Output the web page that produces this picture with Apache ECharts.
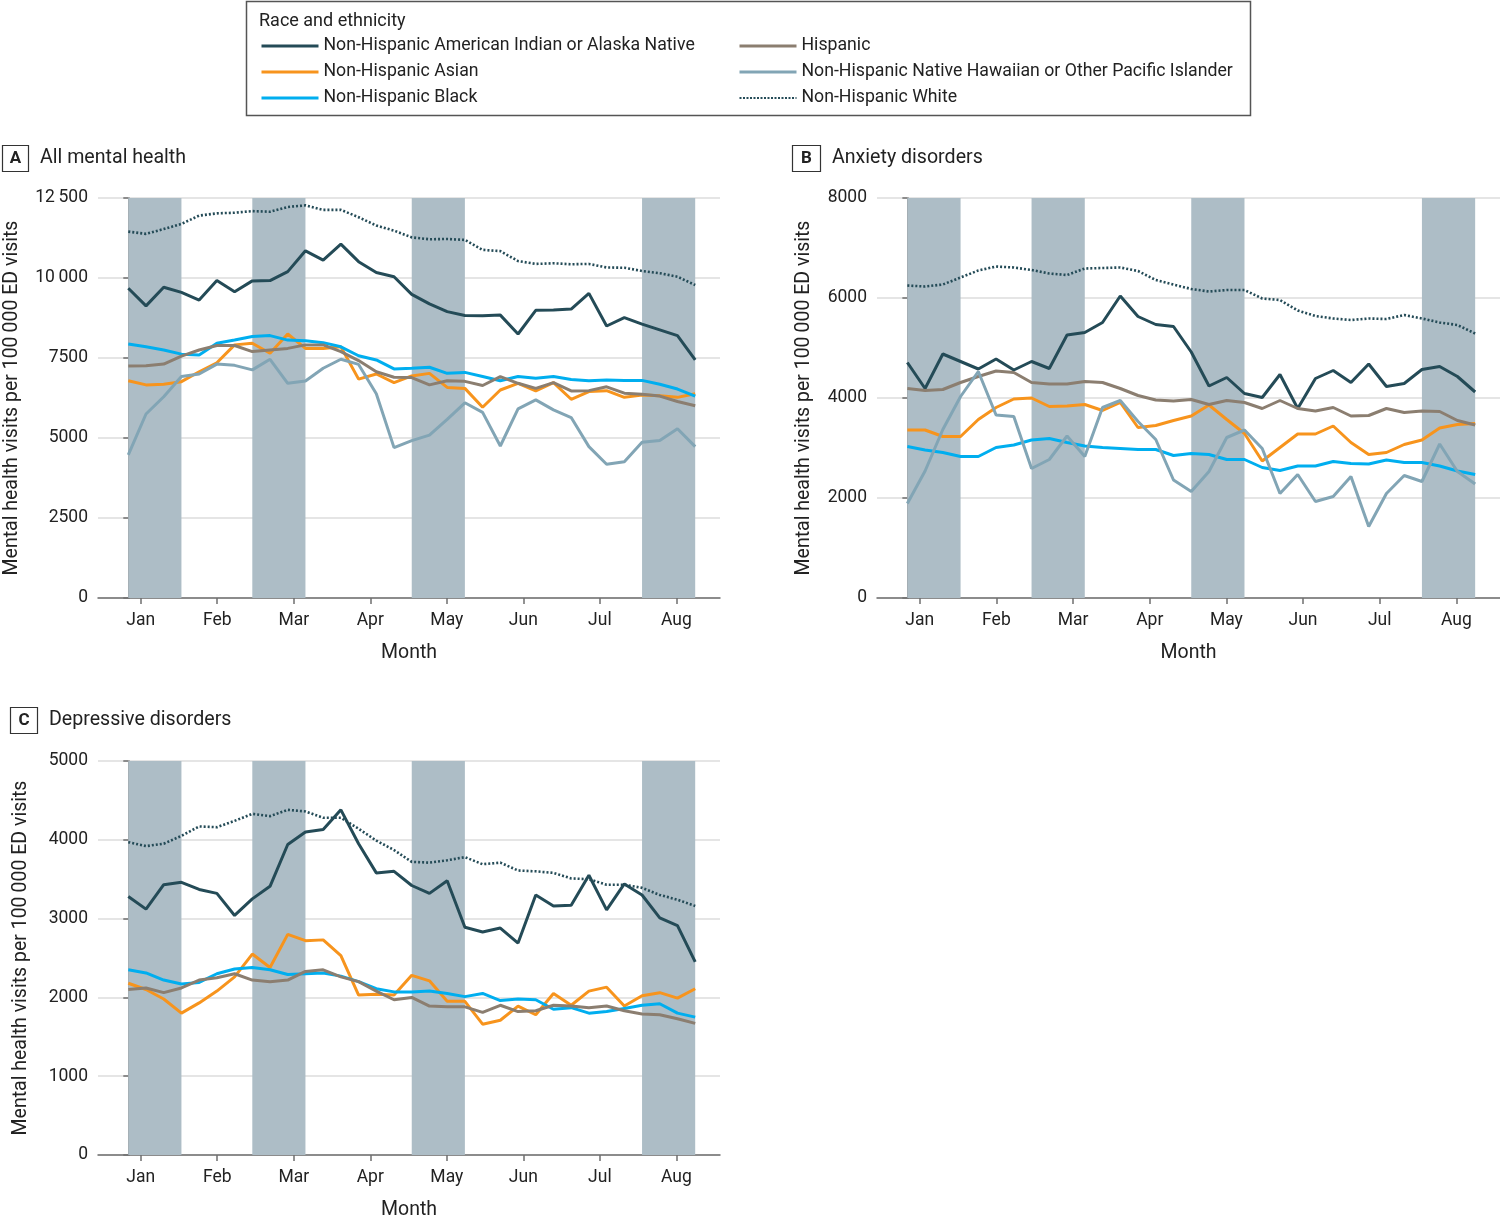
<!DOCTYPE html>
<html><head><meta charset="utf-8">
<script src="https://cdn.jsdelivr.net/npm/echarts@6/dist/echarts.min.js"></script>
<style>html,body{margin:0;padding:0;background:#fff}#c{width:1500px;height:1221px}</style>
</head><body><div id="c"></div>
<script>
// ---- Data (weekly values, week index 0..32) ----
const months = ['Jan','Feb','Mar','Apr','May','Jun','Jul','Aug'];
const monthTickWeeks = [0.7, 5.02, 9.34, 13.66, 17.98, 22.3, 26.62, 30.94];
const shadedWeeks = [[0,3],[7,10],[16,19],[29,32]];
const seriesNames = [
  'Non-Hispanic American Indian or Alaska Native',
  'Non-Hispanic Asian',
  'Non-Hispanic Black',
  'Hispanic',
  'Non-Hispanic Native Hawaiian or Other Pacific Islander',
  'Non-Hispanic White'
];

// Panel A: All mental health
const aianA = [9680,9130,9710,9550,9310,9920,9570,9910,9920,10200,10850,10560,11060,10510,10170,10040,9490,9190,8950,8830,8820,8840,8250,8990,9000,9030,9520,8500,8760,8560,8380,8200,7440];
const asianA = [6790,6660,6680,6760,7070,7350,7910,7960,7650,8250,7800,7800,7850,6840,7000,6730,6940,7020,6580,6550,5960,6500,6710,6470,6730,6210,6450,6480,6270,6340,6320,6270,6380];
const blackA = [7940,7850,7750,7620,7590,7960,8060,8170,8200,8060,8040,7980,7850,7570,7440,7160,7180,7210,7020,7050,6920,6790,6920,6870,6920,6830,6790,6810,6800,6800,6680,6530,6310];
const hispA = [7250,7260,7310,7560,7750,7890,7890,7700,7750,7800,7910,7910,7700,7420,7070,6900,6890,6660,6790,6770,6640,6920,6710,6550,6730,6470,6480,6600,6400,6370,6310,6140,6010];
const nhpiA = [4470,5750,6290,6920,7000,7310,7270,7130,7460,6710,6780,7180,7460,7300,6380,4700,4920,5090,5580,6100,5800,4750,5910,6190,5880,5640,4730,4180,4260,4870,4920,5290,4730];
const whiteA = [11450,11380,11530,11690,11950,12020,12040,12090,12070,12220,12270,12130,12130,11900,11640,11480,11270,11210,11220,11190,10880,10840,10530,10440,10460,10430,10440,10330,10320,10220,10150,10040,9780];

// Panel B: Anxiety disorders
const aianB = [4710,4190,4880,4730,4580,4780,4560,4730,4590,5260,5310,5510,6040,5630,5470,5430,4920,4240,4410,4090,4010,4470,3790,4390,4550,4310,4680,4230,4290,4570,4630,4430,4120];
const asianB = [3360,3360,3230,3230,3570,3810,3980,4000,3830,3840,3870,3750,3910,3410,3450,3550,3640,3860,3570,3290,2740,3010,3280,3280,3440,3110,2870,2910,3070,3160,3400,3470,3490];
const blackB = [3030,2960,2910,2830,2830,3010,3060,3160,3190,3110,3040,3010,2990,2970,2970,2850,2890,2870,2770,2770,2610,2550,2640,2640,2730,2690,2680,2760,2710,2710,2640,2540,2470];
const hispB = [4190,4150,4170,4310,4430,4540,4510,4310,4280,4280,4330,4310,4190,4050,3960,3940,3970,3870,3950,3910,3790,3950,3790,3740,3810,3640,3650,3790,3710,3740,3730,3550,3460];
const nhpiB = [1890,2540,3370,4030,4530,3660,3630,2590,2770,3240,2830,3810,3950,3530,3170,2360,2130,2530,3210,3360,2990,2090,2470,1930,2030,2430,1430,2090,2450,2330,3080,2530,2280];
const whiteB = [6250,6230,6270,6410,6550,6630,6610,6560,6490,6460,6590,6600,6610,6540,6360,6270,6180,6130,6160,6160,5990,5960,5750,5640,5590,5560,5590,5580,5660,5590,5510,5460,5290];

// Panel C: Depressive disorders
const aianC = [3280,3120,3430,3460,3370,3320,3040,3250,3410,3940,4100,4130,4380,3950,3580,3600,3420,3320,3480,2890,2830,2880,2690,3300,3160,3170,3550,3110,3440,3300,3010,2910,2450];
const asianC = [2180,2100,1980,1800,1930,2080,2260,2550,2380,2800,2720,2730,2530,2030,2040,2030,2280,2210,1950,1950,1660,1710,1890,1780,2050,1900,2080,2130,1890,2020,2060,1990,2110];
const blackC = [2350,2310,2220,2170,2190,2300,2360,2380,2350,2290,2300,2310,2270,2200,2110,2070,2070,2080,2050,2010,2050,1960,1980,1970,1850,1870,1800,1820,1860,1900,1920,1800,1750];
const hispC = [2100,2120,2060,2120,2220,2250,2300,2220,2200,2220,2330,2350,2260,2200,2080,1970,2000,1890,1880,1880,1810,1900,1820,1830,1900,1890,1870,1890,1830,1790,1780,1730,1670];
const whiteC = [3970,3920,3950,4050,4170,4160,4240,4330,4300,4380,4360,4280,4280,4140,3990,3870,3720,3710,3740,3780,3690,3710,3610,3600,3580,3510,3500,3430,3430,3390,3300,3240,3160];

// ---- Styles ----
const FONT = 'Roboto';
const TXT = '#222';
const colors = {
  'Non-Hispanic American Indian or Alaska Native': '#244b57',
  'Non-Hispanic Asian': '#f7941d',
  'Non-Hispanic Black': '#00aeef',
  'Hispanic': '#8b7e70',
  'Non-Hispanic Native Hawaiian or Other Pacific Islander': '#82a5b5',
  'Non-Hispanic White': '#244b57'
};
const SHADE = '#adbdc6';

const panels = [
  {grid:{left:98, top:198, width:622, height:400}, max:12500, interval:2500, nameGap:76,
   data:[aianA, asianA, blackA, hispA, nhpiA, whiteA]},
  {grid:{left:877, top:198, width:623, height:400}, max:8000, interval:2000, nameGap:63,
   data:[aianB, asianB, blackB, hispB, nhpiB, whiteB]},
  {grid:{left:98, top:761, width:622, height:400}, max:5000, interval:1000, nameGap:67,
   data:[aianC, asianC, blackC, hispC, null, whiteC]}
];

function fmtNum(v){
  if (v >= 10000) { const s = String(v); return s.slice(0, s.length-3) + '\u2009' + s.slice(-3); }
  return String(v);
}

const grids = [], xAxes = [], yAxes = [], series = [];
panels.forEach((p, k) => {
  grids.push(Object.assign({containLabel:false}, p.grid));
  xAxes.push({
    type:'value', gridIndex:k, min:-1.71, max:33.4,
    name:'Month', nameLocation:'middle', nameGap:45,
    nameTextStyle:{fontFamily:FONT, fontSize:19.5, color:TXT},
    axisLine:{show:true, lineStyle:{color:'#6f6f6f', width:1.5}},
    axisTick:{show:true, length:6, lineStyle:{color:'#6f6f6f', width:1.5}, customValues: monthTickWeeks},
    axisLabel:{show:true, margin:14, fontFamily:FONT, fontSize:17.5, color:TXT, customValues: monthTickWeeks,
      formatter: v => { let best=0, d=1e9; monthTickWeeks.forEach((t,i)=>{ if(Math.abs(t-v)<d){d=Math.abs(t-v);best=i;} }); return months[best]; }},
    splitLine:{show:false}
  });
  yAxes.push({
    type:'value', gridIndex:k, min:0, max:p.max, interval:p.interval,
    name:'Mental health visits per 100\u2009000 ED visits', nameLocation:'middle', nameGap:p.nameGap, nameRotate:90,
    nameTextStyle:{fontFamily:FONT, fontSize:19.5, color:TXT},
    axisLine:{show:true, lineStyle:{color:'#6f6f6f', width:1.5}},
    axisTick:{show:true, inside:false, length:5, lineStyle:{color:'#6f6f6f', width:1.5}},
    axisLabel:{margin:10, fontFamily:FONT, fontSize:17.5, color:TXT, formatter: fmtNum},
    splitLine:{show:true, lineStyle:{color:'#dcdcdc', width:1.5}}
  });
  // shaded bands
  series.push({
    type:'line', xAxisIndex:k, yAxisIndex:k, data:[], silent:true, z:1,
    markArea:{silent:true, itemStyle:{color:SHADE, opacity:1},
      data: shadedWeeks.map(w => [{xAxis:w[0]}, {xAxis:w[1]}])}
  });
  p.data.forEach((arr, j) => {
    if (!arr) return;
    const name = seriesNames[j];
    const isWhite = name === 'Non-Hispanic White';
    series.push({
      type:'line', name, xAxisIndex:k, yAxisIndex:k, z:3,
      showSymbol:false, symbol:'none', smooth:false,
      data: arr.map((v,i) => [i, v]),
      lineStyle:{color:colors[name], width: isWhite ? 2.6 : 3, type: isWhite ? [2,2] : 'solid'},
      itemStyle:{color:colors[name]}
    });
  });
});

const legendItem = n => ({name:n, lineStyle: n === 'Non-Hispanic White' ? {width:2.2, type:[2,1.5]} : {width:3}});
const legendCommon = {
  orient:'vertical', top:32, itemWidth:57, itemHeight:14, itemGap:8,
  itemStyle:{opacity:0},
  textStyle:{fontFamily:FONT, fontSize:17.7, color:TXT}, selectedMode:false
};

const option = {
  animation:false,
  grid: grids, xAxis: xAxes, yAxis: yAxes, series,
  legend: [
    Object.assign({left:255, data: seriesNames.slice(0,3).map(legendItem)}, legendCommon),
    Object.assign({left:733, data: seriesNames.slice(3,6).map(legendItem)}, legendCommon)
  ],
  graphic: [
    {type:'rect', shape:{x:246.5, y:1.5, width:1004, height:114}, style:{fill:'none', stroke:'#555', lineWidth:1.5}},
    {type:'text', left:259, top:12, style:{text:'Race and ethnicity', fontFamily:FONT, fontSize:18, fill:TXT}},
    // panel labels
    {type:'rect', shape:{x:2.5, y:145.5, width:26, height:26}, style:{fill:'#fff', stroke:'#333', lineWidth:1.2}},
    {type:'text', x:15.5, y:158.5, style:{text:'A', fontFamily:FONT, fontSize:17, fontWeight:'bold', fill:TXT, align:'center', verticalAlign:'middle'}},
    {type:'text', x:40, y:158, style:{text:'All mental health', fontFamily:FONT, fontSize:19.6, fill:TXT, verticalAlign:'middle'}},
    {type:'rect', shape:{x:792.5, y:145.5, width:28, height:26}, style:{fill:'#fff', stroke:'#333', lineWidth:1.2}},
    {type:'text', x:806.5, y:158.5, style:{text:'B', fontFamily:FONT, fontSize:17, fontWeight:'bold', fill:TXT, align:'center', verticalAlign:'middle'}},
    {type:'text', x:832, y:158, style:{text:'Anxiety disorders', fontFamily:FONT, fontSize:19.6, fill:TXT, verticalAlign:'middle'}},
    {type:'rect', shape:{x:10.5, y:707.5, width:27, height:26}, style:{fill:'#fff', stroke:'#333', lineWidth:1.2}},
    {type:'text', x:24, y:720.5, style:{text:'C', fontFamily:FONT, fontSize:17, fontWeight:'bold', fill:TXT, align:'center', verticalAlign:'middle'}},
    {type:'text', x:49, y:720, style:{text:'Depressive disorders', fontFamily:FONT, fontSize:19.6, fill:TXT, verticalAlign:'middle'}}
  ]
};

const chart = echarts.init(document.getElementById('c'), null, {renderer:'canvas'});
chart.setOption(option);
</script>
</body></html>
